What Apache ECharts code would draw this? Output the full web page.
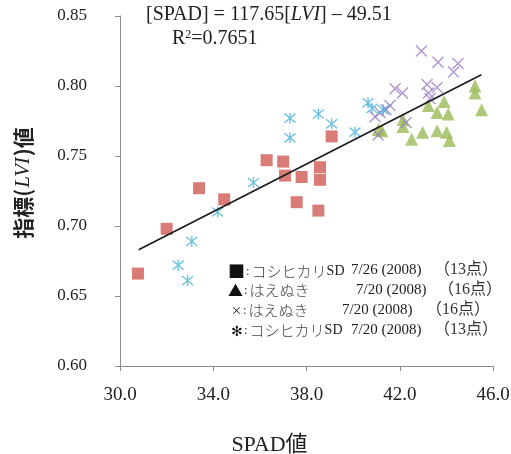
<!DOCTYPE html>
<html><head><meta charset="utf-8">
<script src="https://cdn.jsdelivr.net/npm/echarts@6/dist/echarts.min.js"></script>
<style>html,body{margin:0;padding:0;background:#fff}#c{width:511px;height:454px}</style>
</head><body><div id="c"></div>
<script>
// Koshihikari SD 7/26 (squares)
const koshi726 = [[30.77,0.666],[32.0,0.698],[33.39,0.727],[34.47,0.719],[36.29,0.747],[37.0,0.746],[37.08,0.736],[37.79,0.735],[38.58,0.742],[38.58,0.733],[37.58,0.717],[38.51,0.711],[39.08,0.764]];
// Haenuki 7/20 (triangles)
const haenukiTri = [[45.23,0.800],[45.23,0.795],[45.51,0.783],[43.22,0.786],[43.90,0.789],[43.60,0.781],[44.08,0.780],[42.14,0.776],[42.14,0.771],[41.08,0.769],[42.51,0.762],[42.98,0.767],[43.60,0.768],[44.01,0.767],[44.13,0.761],[41.24,0.768]];
// Haenuki 7/20 (x marks)
const haenukiX = [[42.93,0.825],[43.64,0.817],[44.50,0.816],[44.31,0.810],[41.80,0.798],[42.12,0.795],[43.17,0.801],[43.60,0.799],[43.23,0.795],[43.30,0.791],[40.94,0.778],[41.41,0.783],[41.15,0.781],[41.07,0.765],[42.27,0.774],[41.58,0.786]];
// Koshihikari SD 7/20 (asterisks)
const koshi720 = [[35.72,0.731],[34.19,0.710],[33.08,0.689],[32.50,0.672],[32.90,0.661],[37.29,0.777],[37.29,0.763],[38.51,0.780],[39.08,0.773],[40.08,0.767],[40.64,0.788],[40.81,0.784],[41.29,0.783]];
// regression line endpoints
const fitLine = [[30.8,0.683],[45.5,0.808]];
const xTicks = [30, 34, 38, 42, 46];
const yTicks = [0.60, 0.65, 0.70, 0.75, 0.80, 0.85];
// legend rows: marker, name, date, count
const legMarks = ['■', '▲', '×', '✻'];
const legNames = ['コシヒカリSD', 'はえぬき', 'はえぬき', 'コシヒカリSD'];
const legDates = ['7/26 (2008)', '7/20 (2008)', '7/20 (2008)', '7/20 (2008)'];
const legCounts = ['（13点）', '（16点）', '（16点）', '（13点）'];

const SERIF = "'Liberation Serif','Noto Sans CJK JP',serif";
const CJK = "'Noto Sans CJK JP',sans-serif";

// legend layout (pixel positions of text rows)
const rowY = [272, 292, 312, 332];
const markX = [228, 228, 231, 231];
const dateX = [351, 356, 342, 351];
const countX = [434, 438, 426, 434];
const markSize = [17, 15, 11, 14];
const legendGraphics = [];
for (let i = 0; i < 4; i++) {
  legendGraphics.push({type:'text',left:markX[i],top:rowY[i]-9,style:{
    text:'{m|'+legMarks[i]+'}{c|:}{j|'+legNames[i].replace('SD','')+'}'+(legNames[i].includes('SD')?'{s|SD}':''),
    rich:{
      m:{fontFamily:CJK,fontSize:markSize[i],fill:'#111',verticalAlign:'middle',height:18},
      c:{fontFamily:SERIF,fontSize:13,fill:'#333',padding:[0,2,0,1],height:18},
      j:{fontFamily:CJK,fontSize:15,fontWeight:300,fill:'#444',height:18},
      s:{fontFamily:SERIF,fontSize:14,fill:'#222',height:18}
    }}});
  legendGraphics.push({type:'text',left:dateX[i],top:rowY[i]-9,style:{
    text:legDates[i],font:"15px "+SERIF,fill:'#222'}});
  legendGraphics.push({type:'text',left:countX[i],top:rowY[i]-10,style:{
    text:legCounts[i],font:"16px "+SERIF,fill:'#333'}});
}

const chart = echarts.init(document.getElementById('c'));
chart.setOption({
  animation:false,
  backgroundColor:'#fff',
  grid:{left:120,right:18,top:16,bottom:88,containLabel:false,outerBoundsMode:'none'},
  xAxis:{type:'value',min:xTicks[0],max:xTicks[xTicks.length-1],interval:4,
    splitLine:{show:false},
    axisLine:{onZero:false,lineStyle:{color:'#8c8c8c',width:1}},
    axisTick:{show:true,length:5,lineStyle:{color:'#8c8c8c'}},
    axisLabel:{color:'#222',fontFamily:SERIF,fontSize:19,margin:20,formatter:v=>v.toFixed(1)},
    name:'SPAD値',nameLocation:'middle',nameGap:68,
    nameTextStyle:{color:'#222',fontFamily:SERIF,fontSize:22,padding:[0,74,0,0]}
  },
  yAxis:{type:'value',min:yTicks[0],max:yTicks[yTicks.length-1],interval:0.05,
    splitLine:{show:false},
    axisLine:{show:true,lineStyle:{color:'#8c8c8c',width:1}},
    axisTick:{show:true,length:5,lineStyle:{color:'#8c8c8c'}},
    axisLabel:{color:'#222',fontFamily:SERIF,fontSize:17,margin:33,align:'right',formatter:v=>v.toFixed(2)},
    name:'指標({i|LVI})値',nameLocation:'middle',nameGap:86,
    nameTextStyle:{color:'#222',fontFamily:CJK,fontSize:21,fontWeight:'bold',padding:[0,0,0,16],
      rich:{i:{fontFamily:SERIF,fontStyle:'italic',fontWeight:'normal',fontSize:21,color:'#222',padding:[0,1]}}}
  },
  series:[
    {type:'scatter',data:koshi726,symbol:'rect',symbolSize:12,itemStyle:{color:'#cf5b55'},z:2},
    {type:'scatter',data:haenukiTri,symbol:'triangle',symbolSize:[13,13],itemStyle:{color:'#9bbb59'},z:3},
    {type:'scatter',data:haenukiX,symbol:'path://M0 0L10 10M10 0L0 10',symbolSize:11,
      itemStyle:{color:'rgba(0,0,0,0)',borderColor:'#9a7cc4',borderWidth:1.4},z:4},
    {type:'scatter',data:koshi720,symbol:'path://M0 0L10 10M10 0L0 10M5 -1L5 11',symbolSize:11,
      itemStyle:{color:'rgba(0,0,0,0)',borderColor:'#48b4d8',borderWidth:1.4},z:5},
    {type:'line',data:fitLine,symbol:'none',lineStyle:{color:'#1a1a1a',width:1.6},z:6,silent:true}
  ],
  graphic:[
    {type:'text',left:146,top:5,style:{
      text:'[SPAD] = 117.65[{i|LVI}] – 49.51',
      font:"20px "+SERIF,fill:'#222',
      rich:{i:{fontStyle:'italic',fontFamily:SERIF,fontSize:20,fill:'#222'}}}},
    {type:'text',left:172,top:29,style:{
      text:'R{s|2}=0.7651',font:"20px "+SERIF,fill:'#222',
      rich:{s:{fontSize:12,verticalAlign:'top',fontFamily:SERIF,padding:[0,0,8,0]}}}}
  ].concat(legendGraphics)
});
</script></body></html>
